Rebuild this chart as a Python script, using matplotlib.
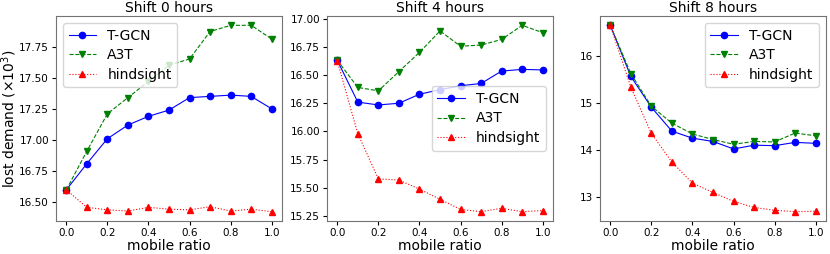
import numpy as np
import matplotlib
matplotlib.use('Agg')
import matplotlib.pyplot as plt
from matplotlib.ticker import MultipleLocator, FormatStrFormatter

# mobile ratio on the x axis
ratio = [0.0, 0.1, 0.2, 0.3, 0.4, 0.5, 0.6, 0.7, 0.8, 0.9, 1.0]

titles = ['Shift 0 hours', 'Shift 4 hours', 'Shift 8 hours']

# lost demand (x10^3)
tgcn_0 = [16.60, 16.81, 17.01, 17.12, 17.19, 17.24, 17.34, 17.35, 17.36, 17.35, 17.25]
a3t_0 = [16.60, 16.91, 17.21, 17.34, 17.47, 17.60, 17.65, 17.87, 17.92, 17.92, 17.81]
hind_0 = [16.60, 16.46, 16.44, 16.43, 16.46, 16.445, 16.44, 16.465, 16.43, 16.445, 16.425]

tgcn_4 = [16.63, 16.26, 16.235, 16.25, 16.33, 16.37, 16.405, 16.425, 16.535, 16.55, 16.545]
a3t_4 = [16.63, 16.39, 16.36, 16.53, 16.70, 16.89, 16.755, 16.765, 16.815, 16.94, 16.875]
hind_4 = [16.625, 15.98, 15.58, 15.57, 15.49, 15.40, 15.31, 15.29, 15.32, 15.29, 15.30]

tgcn_8 = [16.66, 15.57, 14.91, 14.40, 14.25, 14.18, 14.02, 14.10, 14.09, 14.16, 14.14]
a3t_8 = [16.66, 15.63, 14.93, 14.57, 14.34, 14.22, 14.12, 14.18, 14.17, 14.36, 14.30]
hind_8 = [16.66, 15.34, 14.35, 13.74, 13.29, 13.09, 12.90, 12.77, 12.71, 12.68, 12.69]

series = [(tgcn_0, a3t_0, hind_0), (tgcn_4, a3t_4, hind_4), (tgcn_8, a3t_8, hind_8)]
legend_locs = ['upper left', 'center right', 'upper right']
y_steps = [0.25, 0.25, 1]

fig = plt.figure(figsize=(8.3, 2.54), dpi=100)
lefts = [56, 327, 600]

for i in range(3):
  ax = fig.add_axes([lefts[i] / 830., 33 / 254., 226 / 830., 205 / 254.])
  tgcn, a3t, hind = series[i]
  ax.plot(ratio, tgcn, color='blue', marker='o', linestyle='-', markersize=4.5,
          linewidth=0.8, label='T-GCN')
  ax.plot(ratio, a3t, color='green', marker='v', linestyle='--', markersize=4.5,
          linewidth=0.8, label='A3T')
  ax.plot(ratio, hind, color='red', marker='^', linestyle=':', markersize=4.5,
          linewidth=0.8, label='hindsight')
  ax.set_title(titles[i], fontsize=10, pad=3)
  ax.set_xlabel('mobile ratio', fontsize=10, labelpad=1)
  if i == 0:
    ax.set_ylabel(r'lost demand ($\times 10^3$)', fontsize=10)
    ax.yaxis.set_label_coords(-0.165, 0.5)
  ax.tick_params(labelsize=7.5, length=3, pad=2)
  ax.yaxis.set_major_locator(MultipleLocator(y_steps[i]))
  if i < 2:
    ax.yaxis.set_major_formatter(FormatStrFormatter('%.2f'))
  else:
    ax.yaxis.set_major_formatter(FormatStrFormatter('%d'))
  for s in ax.spines.values():
    s.set_edgecolor('0.45')
    s.set_linewidth(0.8)
  ax.legend(loc=legend_locs[i], fontsize=10, handlelength=2,
            borderpad=0.4, labelspacing=0.4)

plt.savefig('out.png', dpi=100)
